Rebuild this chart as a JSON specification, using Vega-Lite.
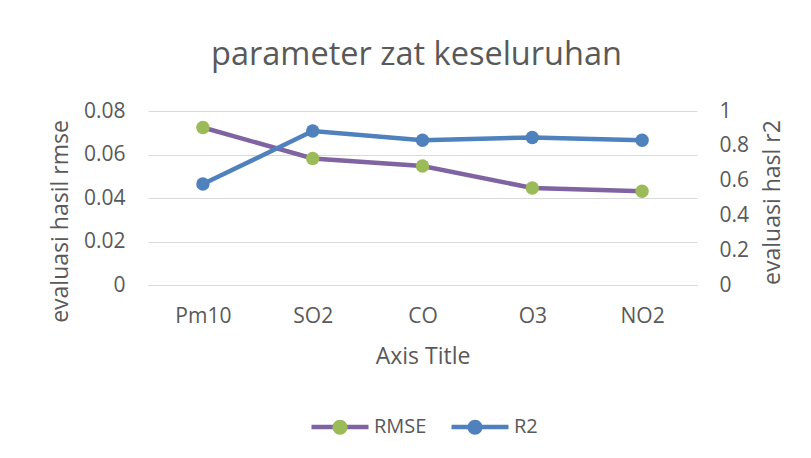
{
  "$schema": "https://vega.github.io/schema/vega-lite/v6.json",
  "width": 549,
  "height": 174,
  "autosize": {"type": "none"},
  "padding": {"left": 148, "top": 111, "right": 114, "bottom": 173},
  "background": "white",
  "title": {
    "text": "parameter zat keseluruhan",
    "anchor": "middle",
    "frame": "group",
    "font": "Open Sans",
    "fontSize": 32.5,
    "fontWeight": "normal",
    "color": "#595959",
    "baseline": "alphabetic",
    "offset": 3,
    "dx": -6
  },
  "data": {
    "values": [
      {"param": "Pm10", "series": "RMSE", "value": 0.0724},
      {"param": "SO2", "series": "RMSE", "value": 0.0582},
      {"param": "CO", "series": "RMSE", "value": 0.0547},
      {"param": "O3", "series": "RMSE", "value": 0.0446},
      {"param": "NO2", "series": "RMSE", "value": 0.0431},
      {"param": "Pm10", "series": "R2", "value": 0.58},
      {"param": "SO2", "series": "R2", "value": 0.885},
      {"param": "CO", "series": "R2", "value": 0.832},
      {"param": "O3", "series": "R2", "value": 0.848},
      {"param": "NO2", "series": "R2", "value": 0.832}
    ]
  },
  "encoding": {
    "x": {
      "field": "param",
      "type": "nominal",
      "sort": null,
      "scale": {"type": "point", "padding": 0.5},
      "axis": {
        "orient": "bottom",
        "title": "Axis Title",
        "labelAngle": 0,
        "ticks": false,
        "grid": false,
        "domainColor": "#D9D9D9",
        "domainWidth": 1,
        "labelPadding": 20,
        "titleY": 78,
        "titleBaseline": "alphabetic"
      }
    }
  },
  "layer": [
    {
      "transform": [{"filter": "datum.series === 'RMSE'"}],
      "encoding": {
        "y": {
          "field": "value",
          "type": "quantitative",
          "scale": {"domain": [0, 0.08], "nice": false, "zero": true},
          "axis": {
            "orient": "left",
            "title": "evaluasi hasil rmse",
            "values": [0, 0.02, 0.04, 0.06, 0.08],
            "labelExpr": "'' + datum.value",
            "grid": true,
            "gridColor": "#D9D9D9",
            "gridWidth": 1,
            "domain": false,
            "ticks": false,
            "labelPadding": 23,
            "titleAngle": 270,
            "titleX": -88,
            "titleY": 110,
            "titleAlign": "center",
            "titleBaseline": "middle"
          }
        }
      },
      "layer": [
        {
          "mark": {"type": "line", "strokeWidth": 4.5},
          "encoding": {
            "color": {
              "field": "series",
              "type": "nominal",
              "scale": {"domain": ["RMSE", "R2", " "], "range": ["#8064A2", "#4F81BD", "rgba(0,0,0,0)"]},
              "legend": {
                "orient": "none",
                "direction": "horizontal",
                "columns": 3,
                "legendX": 161,
                "legendY": 285,
                "title": null,
                "symbolType": "M-1,0L1,0",
                "symbolSize": 3249,
                "symbolStrokeWidth": 4.5,
                "labelFont": "Open Sans",
                "labelFontSize": 20,
                "labelColor": "#595959",
                "labelOffset": 3,
                "columnPadding": 15,
                "padding": 0,
                "zindex": 1
              }
            }
          }
        },
        {
          "mark": {"type": "point", "filled": true, "size": 180, "opacity": 1, "shape": "circle"},
          "encoding": {
            "fill": {
              "field": "series",
              "type": "nominal",
              "scale": {"domain": ["RMSE", "R2"], "range": ["#9BBB59", "#4F81BD"]},
              "legend": {
                "orient": "none",
                "direction": "horizontal",
                "columns": 2,
                "legendX": 161,
                "legendY": 285,
                "title": null,
                "symbolType": "M0.263,0A0.263,0.263,0,1,1,-0.263,0A0.263,0.263,0,1,1,0.263,0Z",
                "symbolSize": 3249,
                "symbolStrokeWidth": 4.5,
                "symbolStrokeColor": "transparent",
                "labelExpr": "''",
                "labelFont": "Open Sans",
                "labelFontSize": 20,
                "labelOffset": 3,
                "columnPadding": 70,
                "padding": 0,
                "zindex": 2,
                "encode": {"symbols": {"update": {"stroke": {"value": "transparent"}, "opacity": {"value": 1}}}}
              }
            }
          }
        }
      ]
    },
    {
      "transform": [{"filter": "datum.series === 'R2'"}],
      "encoding": {
        "y": {
          "field": "value",
          "type": "quantitative",
          "scale": {"domain": [0, 1], "nice": false, "zero": true},
          "axis": {
            "orient": "right",
            "title": "evaluasi hasl r2",
            "values": [0, 0.2, 0.4, 0.6, 0.8, 1],
            "labelExpr": "'' + datum.value",
            "grid": false,
            "domain": false,
            "ticks": false,
            "labelPadding": 22,
            "titleAngle": 270,
            "titleX": 75,
            "titleY": 91,
            "titleAlign": "center",
            "titleBaseline": "middle"
          }
        }
      },
      "layer": [
        {
          "mark": {"type": "line", "strokeWidth": 4.5},
          "encoding": {
            "color": {"field": "series", "type": "nominal"}
          }
        },
        {
          "mark": {"type": "point", "filled": true, "size": 180, "opacity": 1, "shape": "circle"},
          "encoding": {
            "fill": {"field": "series", "type": "nominal"}
          }
        }
      ]
    }
  ],
  "resolve": {"scale": {"y": "independent"}},
  "config": {
    "view": {"stroke": null},
    "axis": {
      "labelFont": "Open Sans",
      "labelFontSize": 21,
      "labelColor": "#595959",
      "titleFont": "Open Sans",
      "titleFontSize": 23,
      "titleFontWeight": "normal",
      "titleColor": "#595959"
    }
  }
}
